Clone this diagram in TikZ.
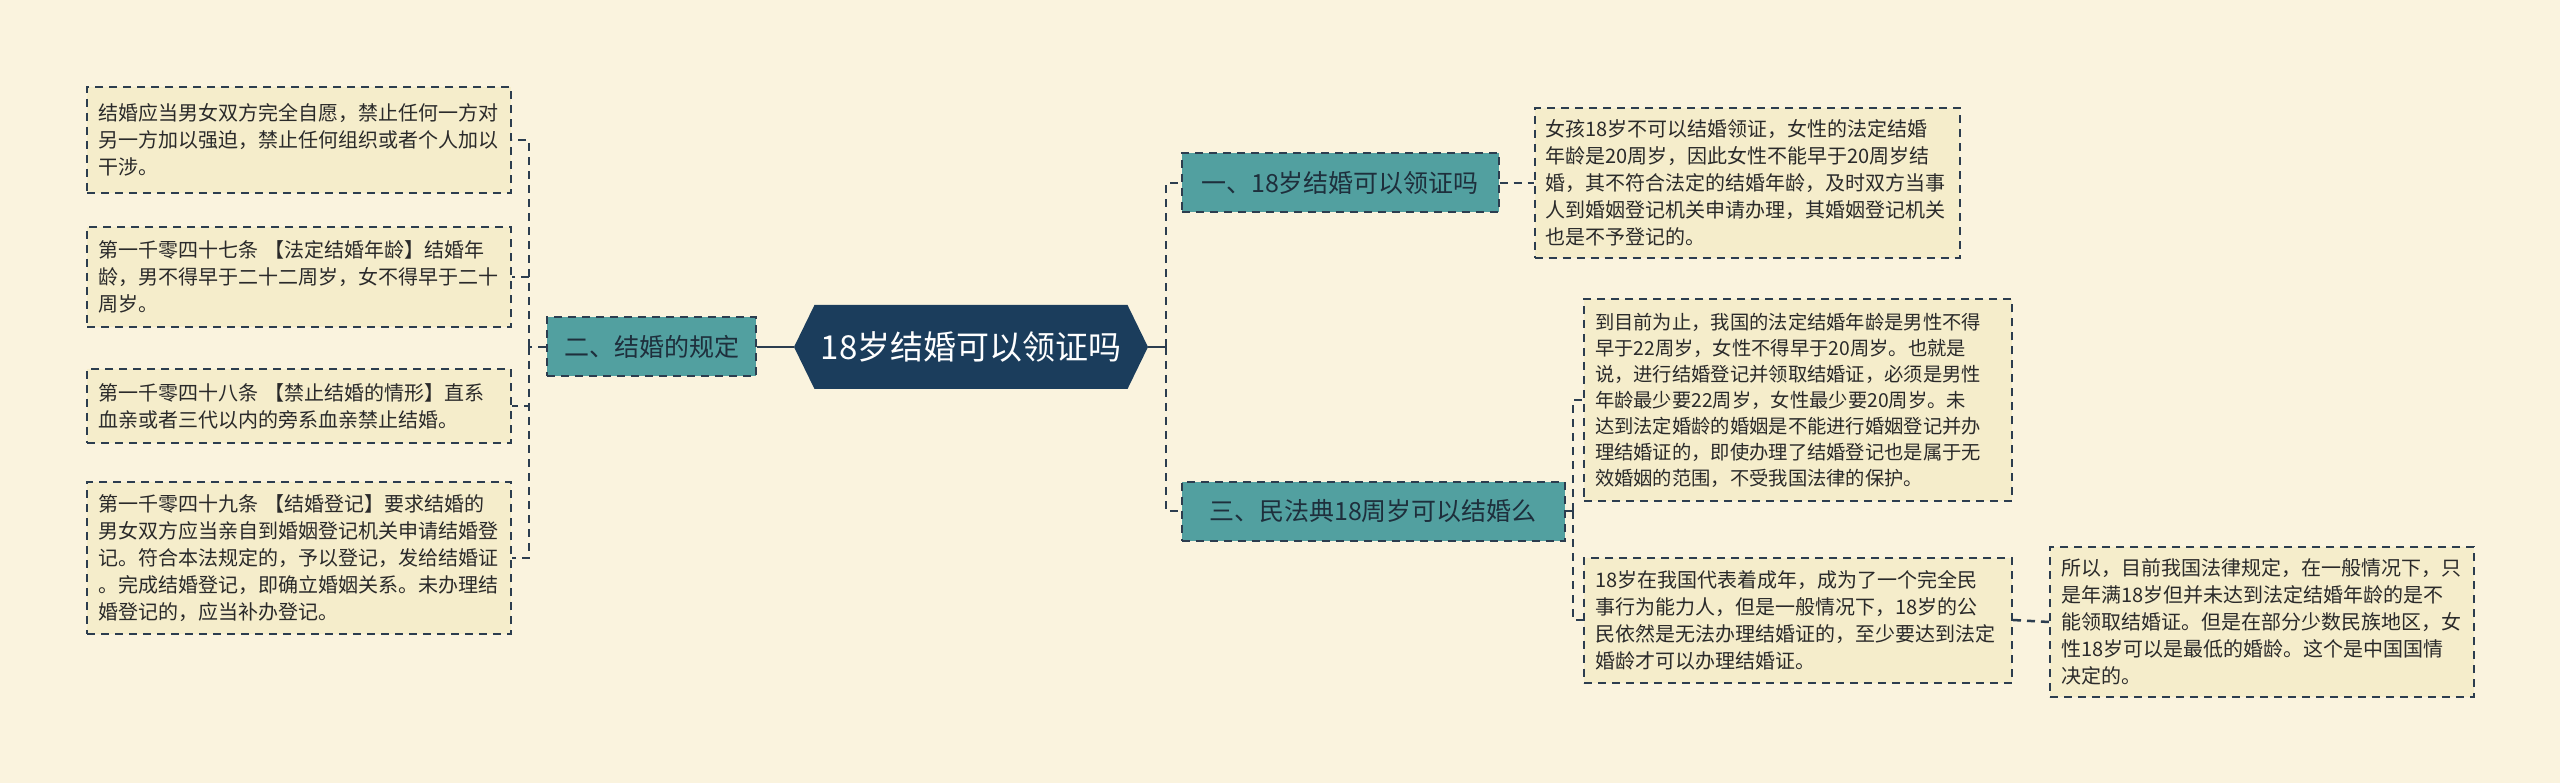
\documentclass[tikz,border=0pt]{standalone}
\usepackage{fontspec}
\usepackage{tikz}
\usetikzlibrary{shapes.symbols}
\newfontfamily\cjk{Noto Sans CJK SC}
\definecolor{bgc}{HTML}{FAF3DE}
\definecolor{boxc}{HTML}{F5EDCB}
\definecolor{linec}{HTML}{2C3D4F}
\definecolor{tealc}{HTML}{52A0A0}
\definecolor{rootc}{HTML}{1B3D5C}
\definecolor{subtxt}{HTML}{1E2F3C}
\definecolor{txtc}{HTML}{2A2A2A}
\tikzset{%
    txt/.style={draw=linec, fill=boxc, dashed, dash pattern=on 8pt off 6pt,
        line width=2pt, align=left, inner xsep=11pt, inner ysep=0pt,
        text=txtc, font=\cjk\fontsize{20}{27}\selectfont},
    sub/.style={draw=linec, fill=tealc, dash pattern=on 8pt off 6pt,
        line width=2pt, inner sep=0pt, minimum height=59pt,
        text=subtxt, font=\cjk\fontsize{25}{30}\selectfont},
    conn/.style={draw=linec, line width=2.5pt, dash pattern=on 8pt off 6pt}
}
\begin{document}
\begin{tikzpicture}[x=1pt, y=1pt]
    \fill[bgc] (0,0) rectangle (2560,-783);
    \useasboundingbox (0,0) rectangle (2560,-783);

    \node[signal, signal to=west and east, signal pointer angle=128,
        fill=rootc, text=white, inner sep=0pt, minimum width=354pt,
        minimum height=84pt, font=\cjk\fontsize{33}{36}\selectfont]
        (root) at (971,-347) {18岁结婚可以领证吗};

    \node[sub, minimum width=209pt] (two) at (651.5,-347) {二、结婚的规定};
    \node[sub, minimum width=317pt] (one) at (1340,-183) {一、18岁结婚可以领证吗};
    \node[sub, minimum width=383pt] (three) at (1373,-511) {三、民法典18周岁可以结婚么};

    \node[txt, text width=402pt, minimum height=106pt] (l1) at (299,-140)
        {结婚应当男女双方完全自愿，禁止任何一方对\\另一方加以强迫，禁止任何组织或者个人加以\\干涉。};
    \node[txt, text width=402pt, minimum height=100pt] (l2) at (299,-277)
        {第一千零四十七条 【法定结婚年龄】结婚年\\龄，男不得早于二十二周岁，女不得早于二十\\周岁。};
    \node[txt, text width=402pt, minimum height=74pt] (l3) at (299,-406)
        {第一千零四十八条 【禁止结婚的情形】直系\\血亲或者三代以内的旁系血亲禁止结婚。};
    \node[txt, text width=402pt, minimum height=152pt] (l4) at (299,-558)
        {第一千零四十九条 【结婚登记】要求结婚的\\男女双方应当亲自到婚姻登记机关申请结婚登\\记。符合本法规定的，予以登记，发给结婚证\\。完成结婚登记，即确立婚姻关系。未办理结\\婚登记的，应当补办登记。};

    \node[txt, text width=403pt, minimum height=150pt] (r1) at (1747,-183)
        {女孩18岁不可以结婚领证，女性的法定结婚\\年龄是20周岁，因此女性不能早于20周岁结\\婚，其不符合法定的结婚年龄，及时双方当事\\人到婚姻登记机关申请办理，其婚姻登记机关\\也是不予登记的。};
    \node[txt, text width=406pt, minimum height=201pt,
        font=\cjk\fontsize{19.3}{26}\selectfont] (r2) at (1798,-400)
        {到目前为止，我国的法定结婚年龄是男性不得\\早于22周岁，女性不得早于20周岁。也就是\\说，进行结婚登记并领取结婚证，必须是男性\\年龄最少要22周岁，女性最少要20周岁。未\\达到法定婚龄的婚姻是不能进行婚姻登记并办\\理结婚证的，即使办理了结婚登记也是属于无\\效婚姻的范围，不受我国法律的保护。};
    \node[txt, text width=406pt, minimum height=125pt] (r3) at (1798,-620)
        {18岁在我国代表着成年，成为了一个完全民\\事行为能力人，但是一般情况下，18岁的公\\民依然是无法办理结婚证的，至少要达到法定\\婚龄才可以办理结婚证。};
    \node[txt, text width=402pt, minimum height=150pt] (r4) at (2262,-622)
        {所以，目前我国法律规定，在一般情况下，只\\是年满18岁但并未达到法定结婚年龄的是不\\能领取结婚证。但是在部分少数民族地区，女\\性18岁可以是最低的婚龄。这个是中国国情\\决定的。};

    \coordinate (lj) at (529,-347);
    \coordinate (rj) at (1166,-347);
    \coordinate (tj) at (1573,-511);

    \draw[conn, solid] (root.west) -- (two.east);
    \draw[conn] (two.west) -- (lj);
    \draw[conn] (lj) |- (l1.east);
    \draw[conn] (lj) |- (l2.east);
    \draw[conn] (lj) |- (l3.east);
    \draw[conn] (lj) |- (l4.east);

    \draw[conn, solid] (root.east) -- (rj);
    \draw[conn] (rj) |- (one.west);
    \draw[conn] (rj) |- (three.west);
    \draw[conn] (one.east) -- (r1.west);

    \draw[conn] (three.east) -- (tj);
    \draw[conn] (tj) |- (r2.west);
    \draw[conn] (tj) |- (r3.west);
    \draw[conn] (r3.east) -- (r4.west);
\end{tikzpicture}
\end{document}
